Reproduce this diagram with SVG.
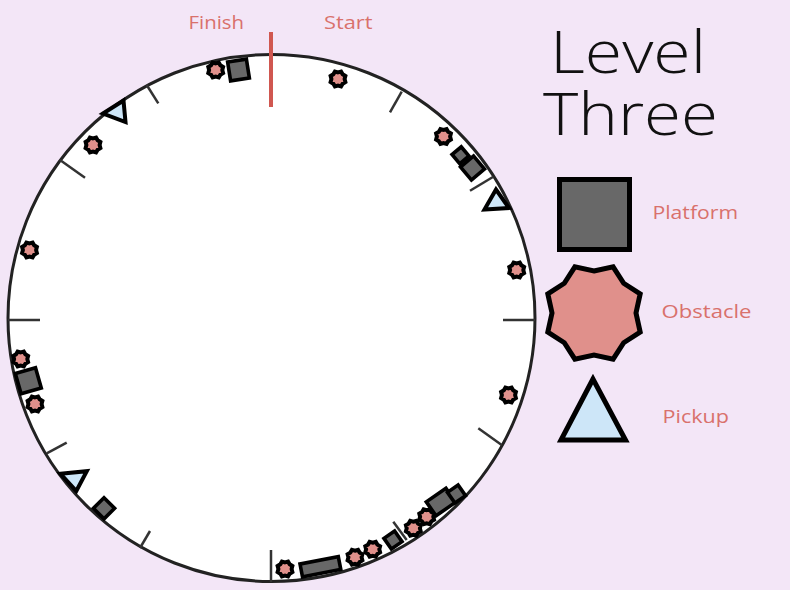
<svg xmlns="http://www.w3.org/2000/svg" xmlns:xlink="http://www.w3.org/1999/xlink" width="790" height="590" viewBox="0 0 790 590">
<style>
.lbl{font-family:"Open Sans","Liberation Sans",sans-serif;font-size:19px;fill:#d9716c;}
.title{font-family:"Open Sans","Liberation Sans",sans-serif;font-weight:300;font-size:58px;fill:#111;}
.plat{fill:#686868;stroke:#000;stroke-width:3.6;stroke-linejoin:miter;}
.obs{fill:#e0908b;stroke:#000;stroke-width:4;stroke-linejoin:miter;}
.pick{fill:#cde6f8;stroke:#000;stroke-width:4;stroke-linejoin:miter;}
.tick{stroke:#333;stroke-width:2.5;fill:none;}
</style>
<defs>
<polygon id="star" points="0,-6.6 3.06,-7.39 4.67,-4.67 7.39,-3.06 6.6,0 7.39,3.06 4.67,4.67 3.06,7.39 0,6.6 -3.06,7.39 -4.67,4.67 -7.39,3.06 -6.6,0 -7.39,-3.06 -4.67,-4.67 -3.06,-7.39"/>
</defs>
<rect x="0" y="0" width="790" height="590" fill="#f3e6f7"/>
<g id="track">
<circle cx="271.5" cy="318" r="263.5" fill="#fff" stroke="#222" stroke-width="3"/>
</g>
<g id="ticks">
<line class="tick" x1="401.7" y1="91.7" x2="390" y2="112.3"/>
<line class="tick" x1="493.3" y1="176.7" x2="470" y2="190.7"/>
<line class="tick" x1="535" y1="320" x2="503" y2="320"/>
<line class="tick" x1="501.7" y1="445" x2="478.3" y2="428.3"/>
<line class="tick" x1="406.7" y1="540" x2="393.3" y2="521.7"/>
<line class="tick" x1="271" y1="582" x2="271" y2="550"/>
<line class="tick" x1="140" y1="548" x2="150" y2="531"/>
<line class="tick" x1="46.7" y1="453.3" x2="66.7" y2="442.7"/>
<line class="tick" x1="8" y1="320" x2="40" y2="320"/>
<line class="tick" x1="60" y1="160" x2="85" y2="177.7"/>
<line class="tick" x1="146.7" y1="85" x2="158.3" y2="103.3"/>
</g>
<g id="start-line">
<line x1="271" y1="32" x2="271" y2="107" stroke="#d05750" stroke-width="4"/>
<text class="lbl" x="188.5" y="29" textLength="55.5" lengthAdjust="spacingAndGlyphs">Finish</text>
<text class="lbl" x="324" y="29" textLength="48.5" lengthAdjust="spacingAndGlyphs">Start</text>
</g>
<g id="obstacles">
<use xlink:href="#star" class="obs" x="215.7" y="70"/>
<use xlink:href="#star" class="obs" x="338" y="79"/>
<use xlink:href="#star" class="obs" x="443.5" y="136.5"/>
<use xlink:href="#star" class="obs" x="516.7" y="270"/>
<use xlink:href="#star" class="obs" x="508.5" y="395"/>
<use xlink:href="#star" class="obs" x="93" y="145"/>
<use xlink:href="#star" class="obs" x="29.5" y="250"/>
<use xlink:href="#star" class="obs" x="20.7" y="359"/>
<use xlink:href="#star" class="obs" x="35" y="404"/>
<use xlink:href="#star" class="obs" x="285" y="569"/>
<use xlink:href="#star" class="obs" x="355" y="557.3"/>
<use xlink:href="#star" class="obs" x="372.7" y="549.3"/>
<use xlink:href="#star" class="obs" x="413.3" y="528.3"/>
<use xlink:href="#star" class="obs" x="426.7" y="516.7"/>
</g>
<g id="platforms">
<rect class="plat" x="-9.5" y="-9.5" width="19" height="19" transform="translate(238.5,70) rotate(-9)"/>
<rect class="plat" x="-6" y="-6" width="12" height="12" transform="translate(460.5,155.3) rotate(-40)"/>
<rect class="plat" x="-8.5" y="-8.5" width="17" height="17" transform="translate(472.5,168) rotate(-40)"/>
<rect class="plat" x="-10.5" y="-10.5" width="21" height="21" transform="translate(28.3,380.7) rotate(-16)"/>
<rect class="plat" x="-7.5" y="-7.5" width="15" height="15" transform="translate(104,508.3) rotate(45)"/>
<rect class="plat" x="-19.5" y="-6.5" width="39" height="13" transform="translate(320.4,566.7) rotate(-11)"/>
<rect class="plat" x="-6.5" y="-6.5" width="13" height="13" transform="translate(393,540) rotate(-35)"/>
<rect class="plat" x="-12" y="-8.5" width="24" height="17" transform="translate(441,502) rotate(-35)"/>
<rect class="plat" x="-6.5" y="-6.5" width="13" height="13" transform="translate(456.5,494) rotate(-35)"/>
</g>
<g id="pickups">
<polygon class="pick" points="103,113.5 123.5,100.5 125.5,122"/>
<polygon class="pick" points="484.5,209.5 496,189.5 509,208"/>
<polygon class="pick" points="60.5,473.8 86.8,471.2 76.3,491"/>
</g>
<g id="title">
<text class="title"><tspan x="550" y="73" textLength="156" lengthAdjust="spacingAndGlyphs">Level</tspan><tspan x="543" y="135" textLength="175" lengthAdjust="spacingAndGlyphs">Three</tspan></text>
</g>
<g id="legend-platform">
<rect x="559.5" y="179.5" width="70" height="70" fill="#686868" stroke="#000" stroke-width="5"/>
<text class="lbl" x="652.5" y="219" textLength="85.5" lengthAdjust="spacingAndGlyphs">Platform</text>
</g>
<g id="legend-obstacle">
<polygon transform="translate(594,313)" fill="#e0908b" stroke="#000" stroke-width="5" points="0,-42 19.13,-46.19 29.7,-29.7 46.19,-19.13 42,0 46.19,19.13 29.7,29.7 19.13,46.19 0,42 -19.13,46.19 -29.7,29.7 -46.19,19.13 -42,0 -46.19,-19.13 -29.7,-29.7 -19.13,-46.19"/>
<text class="lbl" x="661.5" y="318" textLength="90" lengthAdjust="spacingAndGlyphs">Obstacle</text>
</g>
<g id="legend-pickup">
<polygon points="593,379 561,440 625.5,440" fill="#cde6f8" stroke="#000" stroke-width="5"/>
<text class="lbl" x="662.5" y="423" textLength="66.5" lengthAdjust="spacingAndGlyphs">Pickup</text>
</g>
</svg>
